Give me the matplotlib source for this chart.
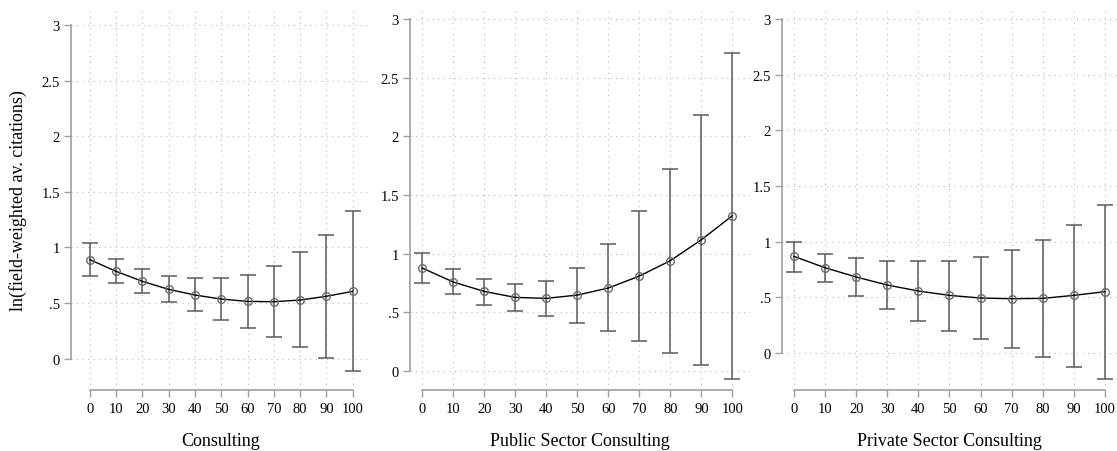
import numpy as np
import matplotlib
matplotlib.use('Agg')
import matplotlib.pyplot as plt

plt.rc('font', family='Liberation Serif')

x = [0, 10, 20, 30, 40, 50, 60, 70, 80, 90, 100]

# Consulting
cons = [0.889, 0.784, 0.694, 0.622, 0.571, 0.535, 0.514, 0.511, 0.526, 0.560, 0.604]
cons_hi = [1.036, 0.895, 0.805, 0.745, 0.721, 0.721, 0.754, 0.835, 0.955, 1.114, 1.327]
cons_lo = [0.745, 0.676, 0.592, 0.505, 0.424, 0.349, 0.272, 0.191, 0.101, 0.002, -0.110]

# Public sector consulting
pub = [0.877, 0.758, 0.678, 0.627, 0.619, 0.647, 0.707, 0.809, 0.940, 1.118, 1.323]
pub_hi = [1.008, 0.866, 0.781, 0.744, 0.764, 0.877, 1.079, 1.362, 1.723, 2.183, 2.708]
pub_lo = [0.749, 0.653, 0.565, 0.508, 0.468, 0.412, 0.338, 0.253, 0.156, 0.048, -0.065]

# Private sector consulting
priv = [0.868, 0.766, 0.683, 0.611, 0.557, 0.518, 0.494, 0.488, 0.491, 0.518, 0.551]
priv_hi = [1.000, 0.889, 0.850, 0.829, 0.829, 0.829, 0.865, 0.922, 1.015, 1.153, 1.329]
priv_lo = [0.731, 0.641, 0.512, 0.392, 0.290, 0.198, 0.129, 0.048, -0.033, -0.123, -0.234]

xlabels = ['Consulting', 'Public Sector Consulting', 'Private Sector Consulting']
yticks = [0, 0.5, 1, 1.5, 2, 2.5, 3]
yticklabels = ['0', '.5', '1', '1.5', '2', '2.5', '3']

W, H = 1117, 452
fig = plt.figure(figsize=(W/100, H/100), dpi=100)

# pixel boxes: left, right, plus x/y limits for each panel
panels = [
    dict(px=(71, 370), xlim=(-7.2, 106.6), ylim=(-0.283, 3.144),
         y=cons, hi=cons_hi, lo=cons_lo),
    dict(px=(410, 750), xlim=(-3.97, 105.7), ylim=(-0.162, 3.085),
         y=pub, hi=pub_hi, lo=pub_lo),
    dict(px=(782, 1117), xlim=(-3.86, 103.9), ylim=(-0.332, 3.09),
         y=priv, hi=priv_hi, lo=priv_lo),
]
top_px, bot_px = 10, 391
axc = '#a0a0a0'

for i, p in enumerate(panels):
    l, r = p['px']
    ax = fig.add_axes([l/W, (H-bot_px)/H, (r-l)/W, (bot_px-top_px)/H])
    ax.set_xlim(p['xlim'])
    ax.set_ylim(p['ylim'])

    yv = np.array(p['y'])
    err = [yv - np.array(p['lo']), np.array(p['hi']) - yv]
    ax.errorbar(x, yv, yerr=err, fmt='none', ecolor='#5a5a5a', elinewidth=1.1,
                capsize=6, capthick=1.1, zorder=2)
    ax.plot(x, yv, '-', color='black', lw=1.0, zorder=3)
    ax.plot(x, yv, 'o', ms=5.5, mfc='none', mec='#6a6a6a', mew=1.0, zorder=4)

    ax.set_xticks(x)
    ax.set_yticks(yticks)
    ax.set_yticklabels(yticklabels)
    ax.grid(True, color='#b8b8b8', linestyle=(0, (1, 4)), linewidth=0.8)
    ax.set_axisbelow(True)

    for s in ['top', 'right']:
        ax.spines[s].set_visible(False)
    ax.spines['left'].set_bounds(0, 3)
    ax.spines['bottom'].set_bounds(0, 100)
    for s in ['left', 'bottom']:
        ax.spines[s].set_color(axc)
        ax.spines[s].set_linewidth(1.2)
    ax.tick_params(axis='both', colors=axc, labelcolor='black', labelsize=10.5,
                   length=5, width=1.0)
    ax.tick_params(axis='x', pad=4)
    ax.tick_params(axis='y', pad=3)

    ax.set_xlabel(xlabels[i], fontsize=13, labelpad=12)
    if i == 0:
        ax.set_ylabel('ln(field-weighted av. citations)', fontsize=13, labelpad=10)

fig.savefig('out.png', dpi=100, facecolor='white')
plt.close()
